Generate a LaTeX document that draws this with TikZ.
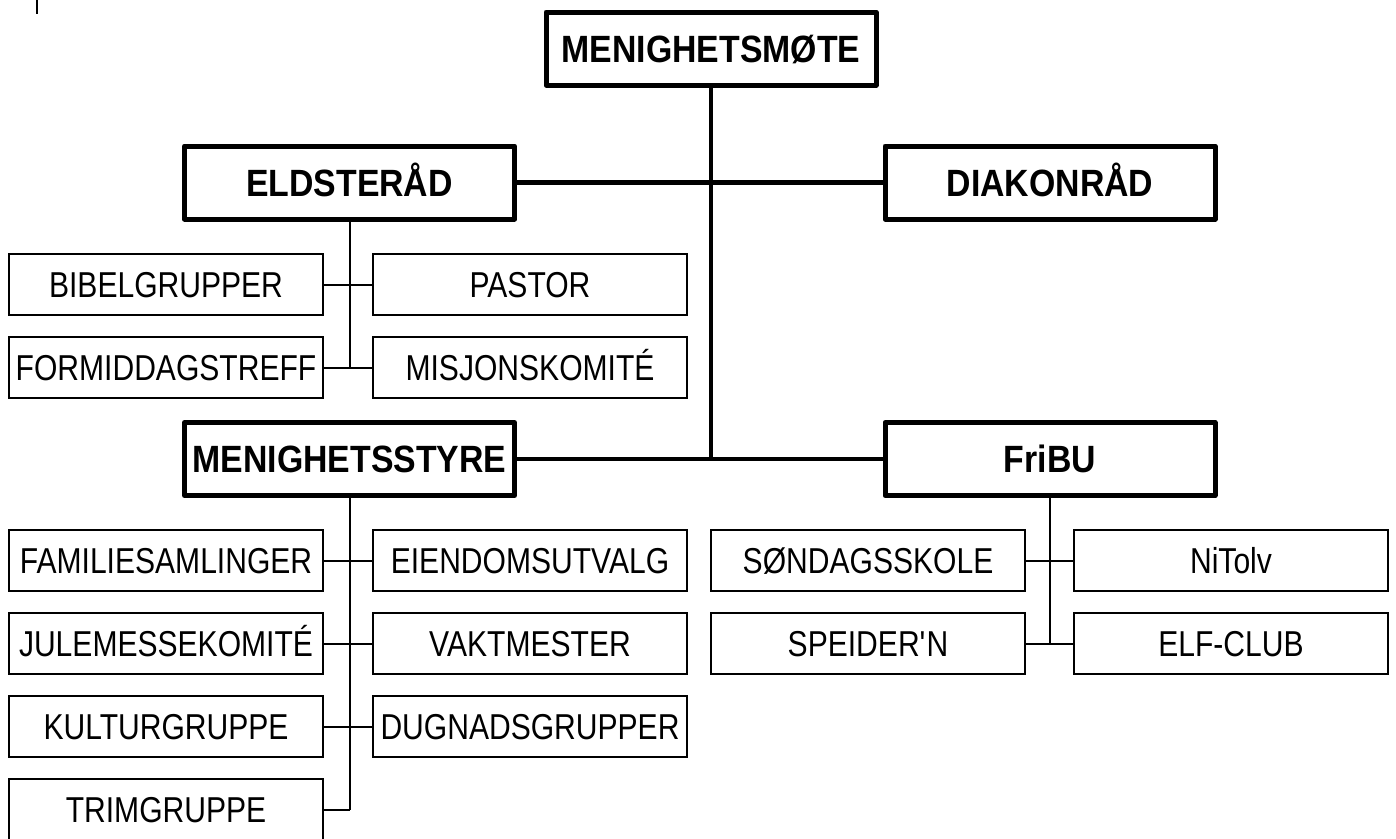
\documentclass[tikz,border=0pt]{standalone}
\usepackage{fontspec}
\setmainfont{Liberation Sans}
\newfontfamily\subfnt{Liberation Sans}[FakeStretch=0.835]
\newfontfamily\mainfnt{Liberation Sans}[FakeStretch=0.89]
\begin{document}
\begin{tikzpicture}[x=1pt,y=-1pt,
  mainbox/.style={draw, line width=5pt, line join=round, minimum width=330pt, minimum height=73pt, inner sep=0pt,
    font=\mainfnt\fontsize{38}{42}\selectfont\bfseries, text height=27.2pt, text depth=0pt},
  subbox/.style={draw, line width=1.8pt, minimum width=314pt, minimum height=61pt, inner sep=0pt,
    font=\subfnt\fontsize{36}{40}\selectfont, text height=25.8pt, text depth=0pt},
  mainline/.style={line width=4.5pt},
  subline/.style={line width=2pt}]
\useasboundingbox (0,0) rectangle (1396,838);
% top-left mark
\coordinate (mk1) at (37,0);
\coordinate (mk2) at (37,14);
\draw[line width=2pt] (mk1) -- (mk2);
% main boxes
\node[mainbox] (M)  at (711,48.5) {MENIGHETSMØTE};
\node[mainbox] (E)  at (349.5,182.5) {ELDSTERÅD};
\node[mainbox] (D)  at (1050,182.5) {DIAKONRÅD};
\node[mainbox] (MS) at (349.5,459) {MENIGHETSSTYRE};
\node[mainbox] (F)  at (1050,459) {FriBU};
% Eldsteråd children
\node[subbox] (e1) at (166,284.5) {BIBELGRUPPER};
\node[subbox] (e2) at (530,284.5) {PASTOR};
\node[subbox] (e3) at (166,367.5) {FORMIDDAGSTREFF};
\node[subbox] (e4) at (530,367.5) {MISJONSKOMITÉ};
% Menighetsstyre children
\node[subbox] (s1) at (166,560.5) {FAMILIESAMLINGER};
\node[subbox] (s2) at (530,560.5) {EIENDOMSUTVALG};
\node[subbox] (s3) at (166,643.5) {JULEMESSEKOMITÉ};
\node[subbox] (s4) at (530,643.5) {VAKTMESTER};
\node[subbox] (s5) at (166,726.5) {KULTURGRUPPE};
\node[subbox] (s6) at (530,726.5) {DUGNADSGRUPPER};
\node[subbox] (s7) at (166,809.5) {TRIMGRUPPE};
% FriBU children
\node[subbox] (f1) at (868,560.5) {SØNDAGSSKOLE};
\node[subbox] (f2) at (1231,560.5) {NiTolv};
\node[subbox] (f3) at (868,643.5) {SPEIDER\textquotesingle N};
\node[subbox] (f4) at (1231,643.5) {ELF-CLUB};
% main connectors
\draw[mainline] (M.south) -- (M.south |- MS.east);
\draw[mainline] (E.east) -- (D.west);
\draw[mainline] (MS.east) -- (F.west);
% Eldsteråd connectors
\draw[subline] (E.south) -- (E.south |- e3.east);
\draw[subline] (e1.east) -- (e2.west);
\draw[subline] (e3.east) -- (e4.west);
% Menighetsstyre connectors
\draw[subline] (MS.south) -- (MS.south |- s7.east);
\draw[subline] (s1.east) -- (s2.west);
\draw[subline] (s3.east) -- (s4.west);
\draw[subline] (s5.east) -- (s6.west);
\draw[subline] (s7.east) -- (MS.south |- s7.east);
% FriBU connectors
\draw[subline] (F.south) -- (F.south |- f3.east);
\draw[subline] (f1.east) -- (f2.west);
\draw[subline] (f3.east) -- (f4.west);
\end{tikzpicture}
\end{document}
